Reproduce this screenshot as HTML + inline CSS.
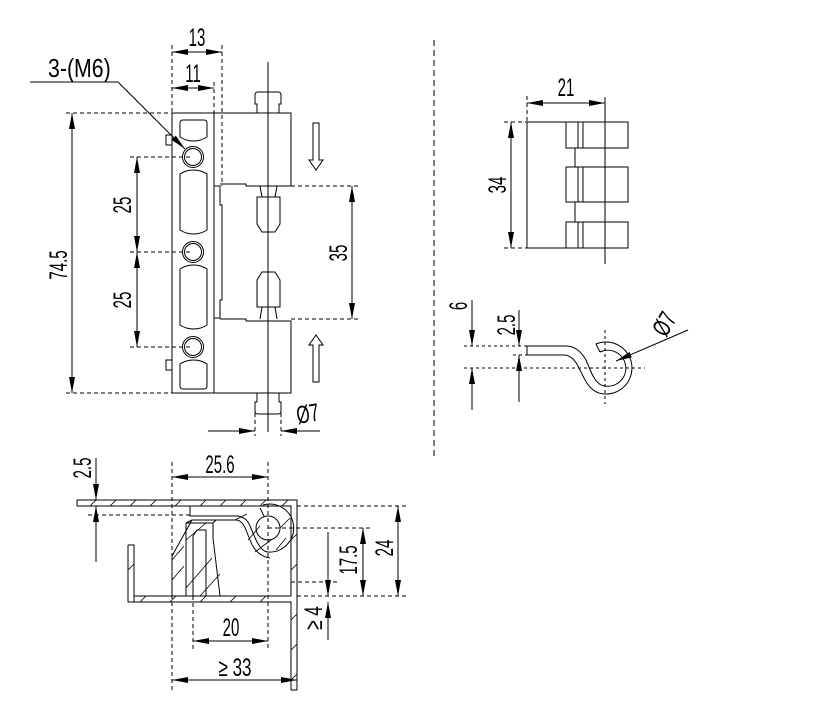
<!DOCTYPE html>
<html><head><meta charset="utf-8"><style>
html,body{margin:0;padding:0;background:#fff;}
svg{display:block;}
text{font-family:"Liberation Sans Narrow","Liberation Sans",sans-serif;font-size:25px;fill:#000;}
</style></head><body>
<svg width="817" height="701" viewBox="0 0 817 701" xmlns="http://www.w3.org/2000/svg">
<defs>
<marker id="b" viewBox="0 0 16 6" refX="16" refY="3" markerWidth="16" markerHeight="6" orient="auto-start-reverse" markerUnits="userSpaceOnUse"><path d="M0,0L16,3L0,6z"/></marker>
</defs>
<g fill="none" stroke="#000" stroke-width="1">
<line x1="434" y1="40" x2="434" y2="460" stroke-dasharray="6,4"/>

<!-- ===== TOP LEFT VIEW ===== -->
<line x1="268" y1="62" x2="268" y2="432"/>
<rect x="172" y="113" width="42" height="280"/>
<path d="M214,186H220V205H222V300H220V318H214"/>
<rect x="166" y="135" width="6" height="10"/>
<rect x="166" y="360" width="6" height="10"/>
<path d="M183,120H204Q207,120 207,123V137Q201,141 193.5,141Q186,141 180,137V123Q180,120 183,120Z"/>
<path d="M180,174Q186,170 193.5,170Q201,170 207,174V230Q201,234 193.5,234Q186,234 180,230Z"/>
<path d="M180,269Q186,265 193.5,265Q201,265 207,269V325Q201,329 193.5,329Q186,329 180,325Z"/>
<path d="M180,364Q186,360 193.5,360Q201,360 207,364V386Q207,389 204,389H183Q180,389 180,386Z"/>
<circle cx="193" cy="157" r="10.5"/><circle cx="193" cy="157" r="8.5"/>
<circle cx="193" cy="252" r="10.5"/><circle cx="193" cy="252" r="8.5"/>
<circle cx="193" cy="347" r="10.5"/><circle cx="193" cy="347" r="8.5"/>
<path d="M214,113H291V186H246V184H220"/>
<path d="M220,319H246V321H291V393H214"/>
<path d="M257,113V104H255V95Q255,92 258,92H278Q281,92 281,95V104H279V113"/>
<path d="M257,393V402H255V411Q255,414 258,414H278Q281,414 281,411V402H279V393"/>
<path d="M260,186L262,197H275L277,186"/>
<path d="M257,197H280V224L275,232H262L257,224Z"/>
<path d="M260,319L262,307H275L277,319"/>
<path d="M262,272H275L280,280V307H257V280Z"/>
<path d="M313,123V160H309L316,170L323,160H319V123Z"/>
<path d="M313,382V345H309L316,335L323,345H319V382Z"/>
<g stroke-dasharray="4,3">
<line x1="172" y1="45" x2="172" y2="113"/><line x1="222" y1="45" x2="222" y2="186"/>
<line x1="214" y1="82" x2="214" y2="113"/>
<line x1="66" y1="113" x2="172" y2="113"/><line x1="66" y1="393" x2="172" y2="393"/>
<line x1="130" y1="157" x2="193" y2="157"/><line x1="130" y1="252" x2="193" y2="252"/><line x1="130" y1="347" x2="193" y2="347"/>
<line x1="291" y1="186" x2="360" y2="186"/><line x1="291" y1="319" x2="360" y2="319"/>
<line x1="255" y1="413" x2="255" y2="436"/><line x1="281" y1="413" x2="281" y2="436"/>
</g>
<line x1="172" y1="52" x2="222" y2="52" marker-start="url(#b)" marker-end="url(#b)"/>
<line x1="172" y1="88" x2="214" y2="88" marker-start="url(#b)" marker-end="url(#b)"/>
<line x1="72" y1="113" x2="72" y2="393" marker-start="url(#b)" marker-end="url(#b)"/>
<line x1="137" y1="157" x2="137" y2="252" marker-start="url(#b)" marker-end="url(#b)"/>
<line x1="137" y1="252" x2="137" y2="347" marker-start="url(#b)" marker-end="url(#b)"/>
<line x1="352" y1="186" x2="352" y2="319" marker-start="url(#b)" marker-end="url(#b)"/>
<line x1="208" y1="431" x2="255" y2="431" marker-end="url(#b)"/>
<line x1="320" y1="431" x2="281" y2="431" marker-end="url(#b)"/>
<path d="M30,82H118L185,149" marker-end="url(#b)"/>

<!-- ===== RIGHT TOP VIEW ===== -->
<line x1="605" y1="97" x2="605" y2="264"/>
<path d="M566,122H527V248H566"/>
<rect x="566" y="122" width="62" height="26"/><line x1="578" y1="122" x2="578" y2="148"/><line x1="583" y1="122" x2="583" y2="148"/>
<rect x="566" y="167" width="62" height="35"/><line x1="578" y1="167" x2="578" y2="202"/><line x1="583" y1="167" x2="583" y2="202"/>
<rect x="566" y="222" width="62" height="26"/><line x1="578" y1="222" x2="578" y2="248"/><line x1="583" y1="222" x2="583" y2="248"/>
<line x1="575" y1="148" x2="575" y2="167"/><line x1="575" y1="202" x2="575" y2="222"/>
<g stroke-dasharray="4,3">
<line x1="527" y1="96" x2="527" y2="122"/>
<line x1="504" y1="122" x2="527" y2="122"/><line x1="504" y1="248" x2="527" y2="248"/>
</g>
<line x1="527" y1="103" x2="605" y2="103" marker-start="url(#b)" marker-end="url(#b)"/>
<line x1="511" y1="122" x2="511" y2="248" marker-start="url(#b)" marker-end="url(#b)"/>

<!-- hook -->
<path d="M527,346H566Q578,346 586,360L592,374Q598,386 605,386A18,18 0 1 0 600,352"/>
<path d="M527,355H564Q572,355 578,366L584,378Q592,394 605,394A26,26 0 1 0 596,344L600,352"/>
<path d="M527,346V355"/>
<g stroke-dasharray="3,3">
<line x1="464" y1="346" x2="527" y2="346"/><line x1="513" y1="355" x2="527" y2="355"/>
<line x1="464" y1="368" x2="645" y2="368"/>
<line x1="605" y1="330" x2="605" y2="404"/>
</g>
<line x1="472" y1="300" x2="472" y2="346" marker-end="url(#b)"/>
<line x1="472" y1="410" x2="472" y2="368" marker-end="url(#b)"/>
<line x1="519" y1="310" x2="519" y2="346" marker-end="url(#b)"/>
<line x1="519" y1="402" x2="519" y2="355" marker-end="url(#b)"/>
<line x1="688" y1="330" x2="616" y2="361" marker-end="url(#b)"/>

<!-- ===== BOTTOM VIEW ===== -->
<path d="M77,500H297V690H291V602H134V596H291V582"/>
<path d="M291,582V506H77V500"/>
<path d="M128,545H134V596M128,545V602H134"/>
<path d="M190,506V516H236Q246,516 250,526L256,540Q262,552 268,552A24,24 0 1 0 263,505"/>
<circle cx="268" cy="528" r="12"/>
<path d="M260,508L264,516"/>
<path d="M172,596V556L192,520H236Q242,520 246,530L250,540Q256,556 270,558"/>
<path d="M186,596V523H213V538L220,596Z"/>
<path d="M193,596V536L197,530H206V596"/>
<path d="M186,523L192,520M213,523L216,520"/>
<g stroke-width="0.8">
<path d="M90,506l6,-6M110,506l6,-6M130,506l6,-6M150,506l6,-6M175,506l6,-6M200,506l6,-6M220,506l6,-6M240,506l6,-6M260,506l6,-6M282,506l6,-6"/>
<path d="M291,540l6,-6M291,570l6,-6M291,620l6,-6M291,650l6,-6M291,680l6,-6"/>
<path d="M128,570l6,-6M140,602l6,-6M170,602l6,-6M200,602l6,-6M230,602l6,-6M260,602l6,-6"/>
<path d="M172,580l12,-14M172,560l12,-14M186,588l26,-30M200,596l20,-22M186,540l20,-17M235,520l12,-6M248,540l12,-14M255,552l16,-12M276,550l10,-12M280,528l10,-10"/>
</g>
<g stroke-dasharray="4,3">
<line x1="172" y1="462" x2="172" y2="690"/>
<line x1="268" y1="462" x2="268" y2="650"/>
<line x1="193" y1="596" x2="193" y2="650"/>
<line x1="88" y1="515" x2="190" y2="515"/>
<line x1="297" y1="506" x2="408" y2="506"/>
<line x1="268" y1="528" x2="372" y2="528"/>
<line x1="291" y1="582" x2="337" y2="582"/>
<line x1="297" y1="596" x2="408" y2="596"/>
</g>
<line x1="96" y1="458" x2="96" y2="500" marker-end="url(#b)"/>
<line x1="96" y1="562" x2="96" y2="506" marker-end="url(#b)"/>
<line x1="172" y1="477" x2="268" y2="477" marker-start="url(#b)" marker-end="url(#b)"/>
<line x1="193" y1="641" x2="268" y2="641" marker-start="url(#b)" marker-end="url(#b)"/>
<line x1="172" y1="680" x2="297" y2="680" marker-start="url(#b)" marker-end="url(#b)"/>
<line x1="363" y1="528" x2="363" y2="596" marker-start="url(#b)" marker-end="url(#b)"/>
<line x1="398" y1="506" x2="398" y2="596" marker-start="url(#b)" marker-end="url(#b)"/>
<line x1="328" y1="532" x2="328" y2="596" marker-end="url(#b)"/>
<line x1="328" y1="640" x2="328" y2="602" marker-end="url(#b)"/>
</g>

<g>
<text transform="translate(197,46) scale(0.6,1)" text-anchor="middle">13</text>
<text transform="translate(193,82) scale(0.6,1)" text-anchor="middle">11</text>
<text transform="translate(48,77) scale(0.82,1)" style="font-size:26px">3-(M6)</text>
<text transform="translate(67,265) rotate(-90) scale(0.6,1)" text-anchor="middle">74.5</text>
<text transform="translate(131,205) rotate(-90) scale(0.6,1)" text-anchor="middle">25</text>
<text transform="translate(131,300) rotate(-90) scale(0.6,1)" text-anchor="middle">25</text>
<text transform="translate(347,253) rotate(-90) scale(0.6,1)" text-anchor="middle">35</text>
<text transform="translate(298,424) rotate(-10) scale(0.68,1)">Ø7</text>
<text transform="translate(566,96) scale(0.6,1)" text-anchor="middle">21</text>
<text transform="translate(506,185) rotate(-90) scale(0.6,1)" text-anchor="middle">34</text>
<text transform="translate(467,306) rotate(-90) scale(0.6,1)" text-anchor="middle">6</text>
<text transform="translate(515,325) rotate(-90) scale(0.6,1)" text-anchor="middle">2.5</text>
<text transform="translate(666,338) rotate(-60) scale(0.68,1)">Ø7</text>
<text transform="translate(91,468) rotate(-90) scale(0.6,1)" text-anchor="middle">2.5</text>
<text transform="translate(220,473) scale(0.6,1)" text-anchor="middle">25.6</text>
<text transform="translate(231,636) scale(0.6,1)" text-anchor="middle">20</text>
<text transform="translate(235,676) scale(0.68,1)" text-anchor="middle">≥ 33</text>
<text transform="translate(357,560) rotate(-90) scale(0.6,1)" text-anchor="middle">17.5</text>
<text transform="translate(393,548) rotate(-90) scale(0.6,1)" text-anchor="middle">24</text>
<text transform="translate(322,618) rotate(-90) scale(0.68,1)" text-anchor="middle">≥ 4</text>
</g>
</svg>
</body></html>
